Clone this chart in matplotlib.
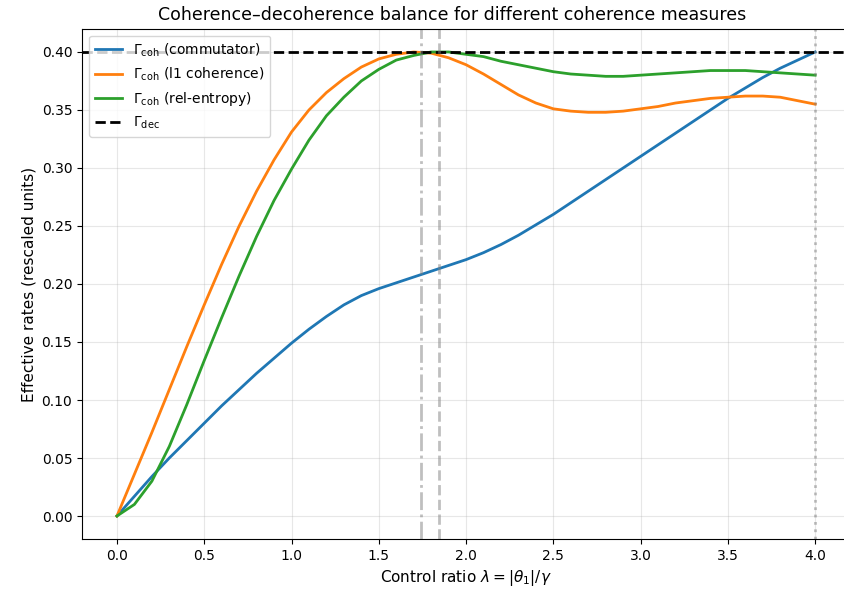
import matplotlib
matplotlib.use("Agg")
import matplotlib.pyplot as plt
import numpy as np

# Control ratio grid
lam = np.round(np.arange(0, 41) * 0.1, 1)

# Effective coherence rates
gamma_comm = [0.000, 0.017, 0.034, 0.050, 0.065, 0.080, 0.095, 0.109, 0.123, 0.136,
              0.149, 0.161, 0.172, 0.182, 0.190, 0.196, 0.201, 0.206, 0.211, 0.216,
              0.221, 0.227, 0.234, 0.242, 0.251, 0.260, 0.270, 0.280, 0.290, 0.300,
              0.310, 0.320, 0.330, 0.340, 0.350, 0.360, 0.369, 0.378, 0.386, 0.393,
              0.400]
gamma_l1 = [0.000, 0.036, 0.072, 0.109, 0.146, 0.182, 0.217, 0.250, 0.280, 0.307,
            0.331, 0.350, 0.365, 0.377, 0.387, 0.394, 0.398, 0.400, 0.399, 0.395,
            0.389, 0.381, 0.372, 0.363, 0.356, 0.351, 0.349, 0.348, 0.348, 0.349,
            0.351, 0.353, 0.356, 0.358, 0.360, 0.361, 0.362, 0.362, 0.361, 0.358,
            0.355]
gamma_rel = [0.000, 0.010, 0.030, 0.060, 0.096, 0.134, 0.171, 0.207, 0.241, 0.272,
             0.299, 0.324, 0.345, 0.361, 0.375, 0.385, 0.393, 0.397, 0.400, 0.400,
             0.398, 0.396, 0.392, 0.389, 0.386, 0.383, 0.381, 0.380, 0.379, 0.379,
             0.380, 0.381, 0.382, 0.383, 0.384, 0.384, 0.384, 0.383, 0.382, 0.381,
             0.380]
gamma_dec = 0.40

# Marked control ratios
lam_peak_l1 = 1.74
lam_peak_rel = 1.845
lam_max = 4.0

fig = plt.figure(figsize=(8.44, 5.97), dpi=100)
ax = fig.add_axes([0.0972, 0.0968, 0.91, 0.855])

ax.plot(lam, gamma_comm, color='tab:blue', lw=2, label=r'$\Gamma_{\rm coh}$ (commutator)')
ax.plot(lam, gamma_l1, color='tab:orange', lw=2, label=r'$\Gamma_{\rm coh}$ (l1 coherence)')
ax.plot(lam, gamma_rel, color='tab:green', lw=2, label=r'$\Gamma_{\rm coh}$ (rel-entropy)')
ax.axhline(gamma_dec, color='k', ls='--', lw=2, label=r'$\Gamma_{\rm dec}$')

ax.axvline(lam_peak_l1, color='gray', ls='-.', lw=2, alpha=0.5)
ax.axvline(lam_peak_rel, color='gray', ls='--', lw=2, alpha=0.5)
ax.axvline(lam_max, color='gray', ls=':', lw=2, alpha=0.5)

ax.set_xlim(-0.2, 4.2)
ax.set_ylim(-0.02, 0.42)
ax.set_xticks(np.arange(0, 4.01, 0.5))
ax.set_yticks(np.arange(0, 0.401, 0.05))
ax.grid(True, alpha=0.3)
ax.spines['right'].set_visible(False)
ax.set_xlabel(r'Control ratio $\lambda = |\theta_1|/\gamma$', fontsize=11)
ax.set_ylabel('Effective rates (rescaled units)', fontsize=11)
ax.set_title('Coherence\u2013decoherence balance for different coherence measures',
             fontsize=12.5, x=0.482)
ax.legend(loc='upper left', fontsize=10)

fig.savefig('out.png', dpi=100)
